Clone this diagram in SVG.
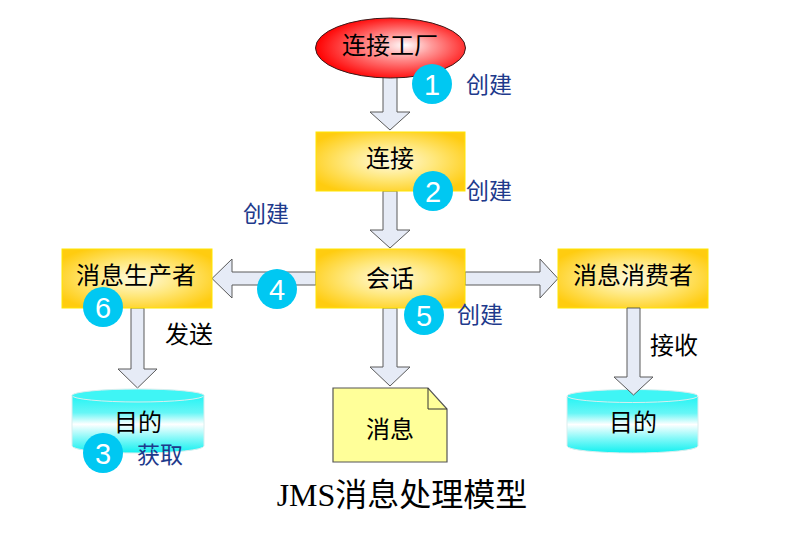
<svg xmlns="http://www.w3.org/2000/svg" width="808" height="539" viewBox="0 0 808 539">
<defs>
  <radialGradient id="gBox" cx="0.5" cy="0.5" r="0.6">
    <stop offset="0" stop-color="#fffbe2"/>
    <stop offset="0.5" stop-color="#ffe77a"/>
    <stop offset="1" stop-color="#ffcc10"/>
  </radialGradient>
  <radialGradient id="gRed" cx="0.55" cy="0.5" r="0.55" fx="0.6" fy="0.45">
    <stop offset="0" stop-color="#ffffff"/>
    <stop offset="0.35" stop-color="#ff9a9a"/>
    <stop offset="1" stop-color="#ff0000"/>
  </radialGradient>
  <linearGradient id="gCyl" x1="0" y1="0" x2="0" y2="1">
    <stop offset="0" stop-color="#22f4f4"/>
    <stop offset="0.3" stop-color="#66f6f6"/>
    <stop offset="0.5" stop-color="#ffffff"/>
    <stop offset="0.75" stop-color="#80f8f8"/>
    <stop offset="1" stop-color="#10f0f0"/>
  </linearGradient>
  <style>
    .box{fill:url(#gBox);stroke:#ffe600;stroke-width:1}
    .cyl{fill:url(#gCyl);stroke:#d8eeee;stroke-width:1}
    .cyltop{fill:#3ff5f5;stroke:#d8eeee;stroke-width:1}
    .arrow{fill:#e6ebf6;stroke:#5a5a5a;stroke-width:1}
    .lbl{font-family:"Liberation Serif","Noto Sans CJK SC",serif;font-size:24px;fill:#000;text-anchor:middle;dominant-baseline:central}
    .act{font-family:"Liberation Sans","Noto Sans CJK SC",sans-serif;font-size:23px;fill:#1e3a8c;dominant-baseline:central}
    .badge{fill:#00c8f2}
    .num{font-family:"Liberation Sans","DejaVu Sans",sans-serif;font-size:29px;fill:#fff;text-anchor:middle;dominant-baseline:central}
  </style>
</defs>
<rect width="808" height="539" fill="#fff"/>

<g id="connectors">
  <polygon class="arrow" points="383,72 397,72 397,112 410,112 390,130 370,112 383,112"/>
  <polygon class="arrow" points="383,191 397,191 397,230 410,230 390,248 370,230 383,230"/>
  <polygon class="arrow" points="383,308 397,308 397,367 410,367 390,386 370,367 383,367"/>
  <polygon class="arrow" points="316,272 316,285 232,285 232,298 212,278.5 232,259 232,272"/>
  <polygon class="arrow" points="465,272 540,272 540,259 558,278.5 540,298 540,285 465,285"/>
  <polygon class="arrow" points="131,308 144,308 144,369 157,369 137.5,388 118,369 131,369"/>
</g>

<g id="factory">
  <ellipse cx="390.5" cy="48" rx="75" ry="30" fill="url(#gRed)" stroke="#3a1a1a" stroke-width="1"/>
  <text class="lbl" x="390" y="46">连接工厂</text>
</g>

<g id="connection">
  <rect class="box" x="316" y="132" width="149" height="59"/>
  <text class="lbl" x="390" y="159">连接</text>
</g>

<g id="session">
  <rect class="box" x="316" y="249" width="149" height="59"/>
  <text class="lbl" x="390" y="279">会话</text>
</g>

<g id="producer">
  <rect class="box" x="62" y="249" width="150" height="59"/>
  <text class="lbl" x="136" y="276">消息生产者</text>
</g>

<g id="consumer">
  <rect class="box" x="558" y="249" width="150" height="59"/>
  <text class="lbl" x="633" y="276">消息消费者</text>
</g>

<g id="dest-left">
  <path class="cyl" d="M72,395.5 V446 A66,7 0 0 0 204,446 V395.5 Z"/>
  <ellipse class="cyltop" cx="138" cy="395.5" rx="66" ry="6.5"/>
  <text class="lbl" x="138" y="423">目的</text>
</g>

<g id="dest-right">
  <path class="cyl" d="M567,396 V446 A65.5,7 0 0 0 698,446 V396 Z"/>
  <ellipse class="cyltop" cx="632.5" cy="396" rx="65.5" ry="6.5"/>
  <text class="lbl" x="633" y="423">目的</text>
</g>

<g id="message">
  <path d="M333,388 H428 L447,409 V462 H333 Z" fill="#ffff99" stroke="#555" stroke-width="1.2"/>
  <path d="M428,388 V409 H447" fill="none" stroke="#333" stroke-width="1"/>
  <text class="lbl" x="390" y="430">消息</text>
</g>

<g id="connector-arrows-over">
  <polygon class="arrow" points="627,308 640,308 640,377 653,377 633.5,395 614,377 627,377"/>
</g>

<g id="labels">
  <text class="act" x="466" y="85">创建</text>
  <text class="act" x="466" y="191">创建</text>
  <text class="act" x="243" y="214">创建</text>
  <text class="act" x="457" y="315">创建</text>
  <text class="act" x="137" y="455">获取</text>
  <text class="lbl" x="189" y="335">发送</text>
  <text class="lbl" x="674" y="346">接收</text>
</g>

<g id="badges">
  <circle class="badge" cx="432" cy="84" r="20"/><text class="num" x="432" y="85">1</text>
  <circle class="badge" cx="433" cy="191" r="20"/><text class="num" x="433" y="192">2</text>
  <circle class="badge" cx="103" cy="453" r="20"/><text class="num" x="103" y="454">3</text>
  <circle class="badge" cx="277" cy="289" r="20"/><text class="num" x="277" y="290">4</text>
  <circle class="badge" cx="424" cy="315" r="20"/><text class="num" x="424" y="316">5</text>
  <circle class="badge" cx="103" cy="307" r="20"/><text class="num" x="103" y="308">6</text>
</g>

<text x="402" y="506" font-family="Liberation Serif,'Noto Sans CJK SC',serif" font-size="32" text-anchor="middle" fill="#000">JMS消息处理模型</text>
</svg>
